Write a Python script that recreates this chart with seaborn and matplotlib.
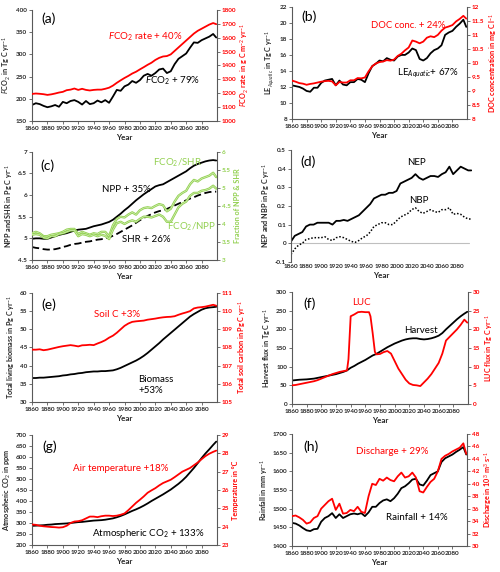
import matplotlib
matplotlib.use("Agg")
import matplotlib.pyplot as plt
import matplotlib.patheffects as pe
from matplotlib.ticker import FormatStrFormatter
import seaborn as sns

sns.set_style("ticks")
plt.rcParams["font.family"] = ["Lato", "DejaVu Sans"]
plt.rcParams["mathtext.fontset"] = "custom"
plt.rcParams["mathtext.rm"] = "Lato"
plt.rcParams["mathtext.it"] = "Lato:italic"
plt.rcParams["mathtext.bf"] = "Lato:bold"

RED = "#ff0000"
GREEN = "#92d050"
AXC = "#595959"

# time axis: 5-year steps up to 2095, then 2099
years = list(range(1860, 2100, 5)) + [2099]

# (a) CO2 evasion
fco2 = [186, 190, 188, 184, 181, 183, 186, 182, 193, 190,
        195, 197, 193, 187, 195, 188, 190, 196, 192, 197,
        191, 205, 220, 218, 228, 232, 240, 236, 242, 252,
        256, 252, 258, 266, 268, 258, 262, 278, 290, 296,
        302, 315, 327, 326, 332, 336, 340, 346, 338]
fco2_rate = [1195, 1198, 1196, 1193, 1188, 1192, 1198, 1205, 1210, 1222,
             1226, 1234, 1224, 1232, 1224, 1220, 1224, 1226, 1226, 1232,
             1240, 1255, 1275, 1293, 1310, 1325, 1342, 1355, 1372, 1388,
             1405, 1420, 1440, 1455, 1465, 1468, 1480, 1505, 1530, 1555,
             1580, 1605, 1630, 1650, 1665, 1680, 1695, 1706, 1698]

# (b) lateral export and DOC
le_aquatic = [12.2, 12.1, 12.0, 11.8, 11.5, 11.4, 11.9, 11.9, 12.5, 12.8,
              12.9, 13.0, 12.2, 12.8, 12.3, 12.2, 12.6, 12.6, 13.0, 12.9,
              12.6, 13.7, 14.6, 14.9, 15.3, 15.2, 15.6, 15.4, 15.3, 15.8,
              16.0, 16.0, 16.3, 16.8, 16.6, 15.5, 15.3, 15.6, 16.2, 16.6,
              16.8, 17.2, 18.5, 18.8, 19.0, 19.5, 19.9, 20.4, 19.5]
doc_conc = [9.37, 9.33, 9.28, 9.26, 9.22, 9.25, 9.27, 9.30, 9.33, 9.35,
            9.36, 9.34, 9.20, 9.32, 9.30, 9.30, 9.38, 9.38, 9.46, 9.45,
            9.48, 9.70, 9.88, 9.98, 10.03, 10.05, 10.10, 10.08, 10.12, 10.25,
            10.33, 10.45, 10.55, 10.80, 10.76, 10.70, 10.76, 10.90, 10.95, 10.92,
            11.00, 11.15, 11.26, 11.30, 11.35, 11.48, 11.57, 11.68, 11.58]

# (c) NPP, SHR and fractions
npp = [4.99, 5.00, 5.00, 4.99, 4.99, 5.02, 5.05, 5.08, 5.10, 5.12,
       5.15, 5.18, 5.20, 5.21, 5.22, 5.25, 5.28, 5.30, 5.32, 5.35,
       5.38, 5.43, 5.50, 5.57, 5.65, 5.72, 5.80, 5.88, 5.95, 6.02,
       6.08, 6.14, 6.20, 6.23, 6.25, 6.30, 6.35, 6.40, 6.45, 6.50,
       6.55, 6.62, 6.68, 6.72, 6.75, 6.78, 6.80, 6.81, 6.80]
shr = [4.80, 4.78, 4.77, 4.75, 4.74, 4.74, 4.75, 4.77, 4.80, 4.82,
       4.85, 4.87, 4.88, 4.90, 4.92, 4.93, 4.95, 4.97, 4.98, 5.00,
       5.02, 5.06, 5.10, 5.15, 5.20, 5.25, 5.30, 5.36, 5.42, 5.47,
       5.52, 5.56, 5.60, 5.63, 5.65, 5.68, 5.72, 5.76, 5.80, 5.84,
       5.88, 5.92, 5.95, 5.99, 6.02, 6.05, 6.07, 6.08, 6.08]
fco2_shr = [3.74, 3.78, 3.74, 3.66, 3.66, 3.70, 3.72, 3.74, 3.78, 3.84,
            3.86, 3.86, 3.72, 3.78, 3.74, 3.70, 3.74, 3.72, 3.78, 3.78,
            3.66, 3.96, 4.14, 4.20, 4.18, 4.26, 4.32, 4.26, 4.38, 4.44,
            4.46, 4.44, 4.50, 4.55, 4.52, 4.35, 4.42, 4.62, 4.78, 4.86,
            4.92, 5.10, 5.22, 5.18, 5.26, 5.30, 5.34, 5.42, 5.30]
fco2_npp = [3.70, 3.72, 3.70, 3.62, 3.60, 3.66, 3.66, 3.72, 3.74, 3.78,
            3.82, 3.82, 3.66, 3.72, 3.70, 3.66, 3.70, 3.66, 3.70, 3.67,
            3.58, 3.84, 4.02, 4.06, 4.00, 4.06, 4.10, 4.06, 4.14, 4.20,
            4.20, 4.18, 4.22, 4.26, 4.20, 4.06, 4.06, 4.26, 4.46, 4.56,
            4.62, 4.78, 4.86, 4.86, 4.92, 4.94, 4.98, 5.06, 4.98]

# (d) NEP and NBP
nep = [0.01, 0.04, 0.05, 0.06, 0.09, 0.10, 0.10, 0.11, 0.11, 0.11,
       0.11, 0.10, 0.12, 0.12, 0.125, 0.12, 0.13, 0.14, 0.15, 0.17,
       0.19, 0.21, 0.24, 0.25, 0.26, 0.26, 0.27, 0.27, 0.28, 0.32,
       0.33, 0.34, 0.35, 0.37, 0.35, 0.34, 0.35, 0.36, 0.36, 0.355,
       0.37, 0.38, 0.41, 0.37, 0.39, 0.41, 0.40, 0.39, 0.39]
nbp = [-0.06, -0.03, -0.01, 0.0, 0.02, 0.025, 0.03, 0.03, 0.03, 0.035,
       0.02, 0.015, 0.03, 0.035, 0.03, 0.02, 0.01, 0.005, 0.015, 0.03,
       0.04, 0.06, 0.09, 0.10, 0.11, 0.11, 0.10, 0.10, 0.12, 0.14,
       0.15, 0.16, 0.18, 0.19, 0.17, 0.16, 0.17, 0.18, 0.17, 0.165,
       0.18, 0.18, 0.19, 0.155, 0.16, 0.155, 0.14, 0.13, 0.13]

# (e) biomass and soil carbon
biomass = [36.6, 36.6, 36.7, 36.7, 36.8, 36.9, 37.0, 37.1, 37.3, 37.4,
           37.6, 37.7, 37.9, 38.0, 38.2, 38.3, 38.4, 38.4, 38.5, 38.5,
           38.6, 38.7, 39.0, 39.4, 39.9, 40.4, 40.9, 41.4, 42.0, 42.7,
           43.5, 44.4, 45.3, 46.2, 47.2, 48.1, 49.0, 49.9, 50.8, 51.7,
           52.6, 53.5, 54.2, 54.8, 55.4, 55.8, 56.0, 56.1, 56.2]
soil_c = [107.88, 107.88, 107.90, 107.85, 107.88, 107.93, 107.98, 108.03, 108.07, 108.10,
          108.13, 108.10, 108.06, 108.12, 108.13, 108.15, 108.13, 108.22, 108.30, 108.40,
          108.54, 108.65, 108.81, 109.00, 109.19, 109.32, 109.41, 109.44, 109.46, 109.48,
          109.53, 109.56, 109.59, 109.63, 109.66, 109.68, 109.69, 109.72, 109.80, 109.87,
          109.93, 110.00, 110.15, 110.20, 110.22, 110.25, 110.30, 110.35, 110.30]

# (f) harvest and land use change
harvest = [63, 64, 65, 65.5, 66, 67, 68, 70, 72, 74,
           76, 78, 80, 83, 86, 90, 97, 102, 108, 113,
           118, 124, 130, 134, 140, 146, 152, 157, 162, 166,
           170, 173, 175, 176, 176, 174, 173, 174, 176, 179,
           183, 190, 200, 209, 218, 227, 235, 242, 247]
luc_years = [1860, 1865, 1870, 1875, 1880, 1885, 1890, 1895, 1900, 1905,
             1910, 1915, 1920, 1925, 1930, 1935, 1937, 1940, 1945, 1950,
             1955, 1960, 1965, 1967, 1970, 1973, 1975, 1980, 1985, 1990,
             1995, 2000, 2005, 2010, 2015, 2020, 2025, 2030, 2035, 2040,
             2045, 2050, 2055, 2060, 2065, 2070, 2075, 2080, 2085, 2090,
             2095, 2099]
luc = [5.0, 5.1, 5.3, 5.5, 5.7, 5.9, 6.1, 6.4, 6.8, 7.2,
       7.6, 8.0, 8.3, 8.6, 8.8, 9.0, 12.0, 23.5, 24.0, 24.6,
       24.7, 24.6, 24.6, 23.5, 19.0, 14.0, 13.3, 13.4, 13.9, 14.2,
       13.5, 11.5, 9.5, 8.0, 6.5, 5.5, 5.1, 5.0, 4.8, 5.8,
       6.8, 8.0, 9.5, 11.0, 13.5, 17.0, 18.0, 19.0, 20.0, 21.2,
       22.6, 21.8]

# (g) atmospheric CO2 and temperature
co2 = [287, 288, 289, 290, 292, 293, 295, 296, 297, 298,
       300, 302, 304, 305, 307, 309, 311, 312, 313, 315,
       318, 321, 326, 332, 339, 347, 355, 362, 370, 379,
       389, 400, 410, 420, 430, 441, 452, 465, 478, 493,
       510, 530, 550, 572, 595, 616, 635, 655, 670]
temperature = [24.12, 24.10, 24.05, 24.02, 24.00, 23.98, 23.97, 23.95, 23.97, 24.05,
               24.20, 24.28, 24.30, 24.35, 24.45, 24.55, 24.55, 24.52, 24.57, 24.60,
               24.60, 24.58, 24.60, 24.65, 24.72, 24.90, 25.10, 25.30, 25.47, 25.65,
               25.85, 25.98, 26.10, 26.25, 26.38, 26.47, 26.56, 26.70, 26.85, 27.00,
               27.10, 27.20, 27.35, 27.50, 27.68, 27.85, 27.98, 28.08, 28.15]

# (h) rainfall and discharge
rainfall = [1462, 1460, 1455, 1448, 1442, 1440, 1445, 1446, 1465, 1475,
            1480, 1488, 1475, 1485, 1475, 1480, 1485, 1487, 1485, 1488,
            1480, 1490, 1505, 1505, 1515, 1522, 1525, 1520, 1528, 1540,
            1555, 1560, 1568, 1578, 1580, 1565, 1562, 1575, 1590, 1595,
            1600, 1625, 1635, 1640, 1645, 1652, 1658, 1665, 1645]
discharge = [34.8, 34.9, 34.6, 34.2, 33.6, 33.8, 34.5, 34.8, 36.0, 36.6,
             37.2, 37.6, 35.8, 36.8, 35.2, 35.3, 35.8, 35.6, 36.3, 35.5,
             35.3, 38.0, 40.0, 39.8, 40.8, 40.5, 41.0, 40.6, 40.4, 41.2,
             41.8, 41.0, 41.2, 41.8, 41.0, 38.8, 38.6, 39.5, 40.3, 40.8,
             42.0, 44.0, 44.5, 44.8, 45.2, 45.5, 45.8, 46.5, 44.8]


fig = plt.figure(figsize=(5, 5.72), dpi=100)


def frange(a, b, s):
    out = []
    v = a
    while v <= b + 1e-9:
        out.append(round(v, 3))
        v += s
    return out


def style_left(ax, ylim, step, ylabel):
    ax.set_xlim(1860, 2100)
    ax.set_xticks(list(range(1860, 2081, 20)))
    ax.set_ylim(*ylim)
    ax.set_yticks(frange(ylim[0], ylim[1], step))
    ax.yaxis.set_major_formatter(FormatStrFormatter("%g"))
    ax.set_xlabel("Year", fontsize=5.8, fontweight="bold", labelpad=2)
    ax.set_ylabel(ylabel, fontsize=5.2, fontweight="bold", labelpad=2)
    for s in ["top", "right"]:
        ax.spines[s].set_visible(False)
    for s in ["left", "bottom"]:
        ax.spines[s].set_color(AXC)
        ax.spines[s].set_linewidth(0.8)
    ax.tick_params(labelsize=4.6, length=2, width=0.6, color=AXC, pad=1.5)
    for lab in ax.get_xticklabels() + ax.get_yticklabels():
        lab.set_fontweight("bold")


def style_right(tw, ylim, step, ylabel, color):
    tw.set_ylim(*ylim)
    tw.set_yticks(frange(ylim[0], ylim[1], step))
    tw.yaxis.set_major_formatter(FormatStrFormatter("%g"))
    tw.set_ylabel(ylabel, fontsize=5.2, fontweight="bold", color=color, labelpad=2)
    for s in ["top", "left", "bottom"]:
        tw.spines[s].set_visible(False)
    tw.spines["right"].set_color(AXC)
    tw.spines["right"].set_linewidth(0.8)
    tw.tick_params(axis="y", labelsize=4.6, length=2, width=0.6, color=AXC,
                   labelcolor=color, pad=1.5)
    for lab in tw.get_yticklabels():
        lab.set_fontweight("bold")


def note(ax, x, y, txt, color="black", size=7, **kw):
    ax.text(x, y, txt, transform=ax.transAxes, color=color, fontsize=size,
            va="center", ha="left", **kw)


LW = 1.3

# ---- (a)
ax = fig.add_axes([0.064, 0.7885, 0.370, 0.194])
sns.lineplot(x=years, y=fco2, ax=ax, color="black", lw=LW)
tw = ax.twinx()
sns.lineplot(x=years, y=fco2_rate, ax=tw, color=RED, lw=LW)
style_left(ax, (150, 400), 50, r"$F$CO$_2$ in Tg C yr$^{-1}$")
style_right(tw, (1000, 1800), 100, r"$F$CO$_2$ rate  in g C m$^{-2}$ yr$^{-1}$", RED)
note(ax, 0.05, 0.925, "(a)", size=10)
note(ax, 0.41, 0.755, r"$F$CO$_2$ rate + 40%", RED)
note(ax, 0.61, 0.36, r"$F$CO$_2$ + 79%")

# ---- (b)
ax = fig.add_axes([0.584, 0.792, 0.350, 0.196])
sns.lineplot(x=years, y=le_aquatic, ax=ax, color="black", lw=LW)
tw = ax.twinx()
sns.lineplot(x=years, y=doc_conc, ax=tw, color=RED, lw=LW)
style_left(ax, (8, 22), 2, r"LE$_{Aquatic}$ in Tg C yr$^{-1}$")
style_right(tw, (8, 12), 0.5, r"DOC concentration in mg C l$^{-1}$", RED)
note(ax, 0.055, 0.913, "(b)", size=10)
note(ax, 0.45, 0.83, "DOC conc. + 24%", RED, size=6.8)
note(ax, 0.60, 0.408, r"LE$_{Aquatic}$+ 67%")

# ---- (c)
ax = fig.add_axes([0.064, 0.5455, 0.370, 0.189])
sns.lineplot(x=years, y=npp, ax=ax, color="black", lw=LW)
sns.lineplot(x=years, y=shr, ax=ax, color="black", lw=LW)
ax.lines[1].set_dashes([4, 2])
tw = ax.twinx()
halo = [pe.Stroke(linewidth=1.7, foreground=GREEN), pe.Normal()]
sns.lineplot(x=years, y=fco2_shr, ax=tw, color="#d4efb8", lw=0.5)
sns.lineplot(x=years, y=fco2_npp, ax=tw, color="#d4efb8", lw=0.5)
for ln in tw.lines:
    ln.set_path_effects(halo)
style_left(ax, (4.5, 7), 0.5, r"NPP and SHR in Pg C yr$^{-1}$")
style_right(tw, (3, 6), 0.5, "Fraction of NPP & SHR", GREEN)
note(ax, 0.047, 0.87, "(c)", size=10)
note(ax, 0.377, 0.648, "NPP + 35%")
note(ax, 0.485, 0.19, "SHR + 26%")
note(ax, 0.654, 0.90, r"FCO$_2$/SHR", GREEN)
note(ax, 0.728, 0.303, r"FCO$_2$/NPP", GREEN)

# ---- (d)
ax = fig.add_axes([0.582, 0.542, 0.362, 0.196])
ax.axhline(0, color="#bfbfbf", lw=0.8, xmax=0.985)
sns.lineplot(x=years, y=nep, ax=ax, color="black", lw=LW)
sns.lineplot(x=years, y=nbp, ax=ax, color="black", lw=1.1)
ax.lines[-1].set_linestyle((0, (1, 1.2)))
style_left(ax, (-0.1, 0.5), 0.1, r"NEP and NBP in Pg C yr$^{-1}$")
ax.spines["bottom"].set_visible(False)
ax.tick_params(axis="x", length=0)
note(ax, 0.05, 0.896, "(d)", size=10)
note(ax, 0.64, 0.887, "NEP")
note(ax, 0.655, 0.545, "NBP")

# ---- (e)
ax = fig.add_axes([0.064, 0.2972, 0.370, 0.1906])
sns.lineplot(x=years, y=biomass, ax=ax, color="black", lw=LW)
tw = ax.twinx()
sns.lineplot(x=years, y=soil_c, ax=tw, color=RED, lw=LW)
style_left(ax, (30, 60), 5, r"Total living biomass in Pg C yr$^{-1}$")
style_right(tw, (105, 111), 1, r"Total soil carbon in Pg C yr$^{-1}$", RED)
note(ax, 0.052, 0.89, "(e)", size=10)
note(ax, 0.335, 0.80, "Soil C +3%", RED)
note(ax, 0.575, 0.156, "Biomass\n+53%", linespacing=1.2)

# ---- (f)
ax = fig.add_axes([0.584, 0.2937, 0.352, 0.1958])
sns.lineplot(x=years, y=harvest, ax=ax, color="black", lw=LW)
tw = ax.twinx()
sns.lineplot(x=luc_years, y=luc, ax=tw, color=RED, lw=LW)
style_left(ax, (0, 300), 50, r"Harvest flux in Tg C yr$^{-1}$")
style_right(tw, (0, 30), 5, r"LUC flux in Tg C yr$^{-1}$", RED)
note(ax, 0.063, 0.893, "(f)", size=10)
note(ax, 0.339, 0.905, "LUC", RED)
note(ax, 0.636, 0.652, "Harvest")

# ---- (g)
ax = fig.add_axes([0.064, 0.0472, 0.370, 0.1923])
sns.lineplot(x=years, y=co2, ax=ax, color="black", lw=LW)
tw = ax.twinx()
sns.lineplot(x=years, y=temperature, ax=tw, color=RED, lw=LW)
style_left(ax, (200, 700), 50, r"Atmospheric CO$_2$ in ppm")
style_right(tw, (23, 29), 1, "Temperature in °C", RED)
note(ax, 0.058, 0.894, "(g)", size=10)
note(ax, 0.22, 0.697, "Air temperature +18%", RED)
note(ax, 0.323, 0.106, r"Atmospheric CO$_2$ + 133%")

# ---- (h)
ax = fig.add_axes([0.584, 0.04545, 0.350, 0.1958])
sns.lineplot(x=years, y=rainfall, ax=ax, color="black", lw=LW)
tw = ax.twinx()
sns.lineplot(x=years, y=discharge, ax=tw, color=RED, lw=LW)
style_left(ax, (1400, 1700), 50, r"Rainfall in mm yr$^{-1}$")
style_right(tw, (30, 48), 2, r"Discharge in 10$^3$ m$^3$ s$^{-1}$", RED)
note(ax, 0.063, 0.887, "(h)", size=10)
note(ax, 0.366, 0.842, "Discharge + 29%", RED)
note(ax, 0.54, 0.253, "Rainfall + 14%")

fig.savefig("out.png", dpi=100, facecolor="white")
